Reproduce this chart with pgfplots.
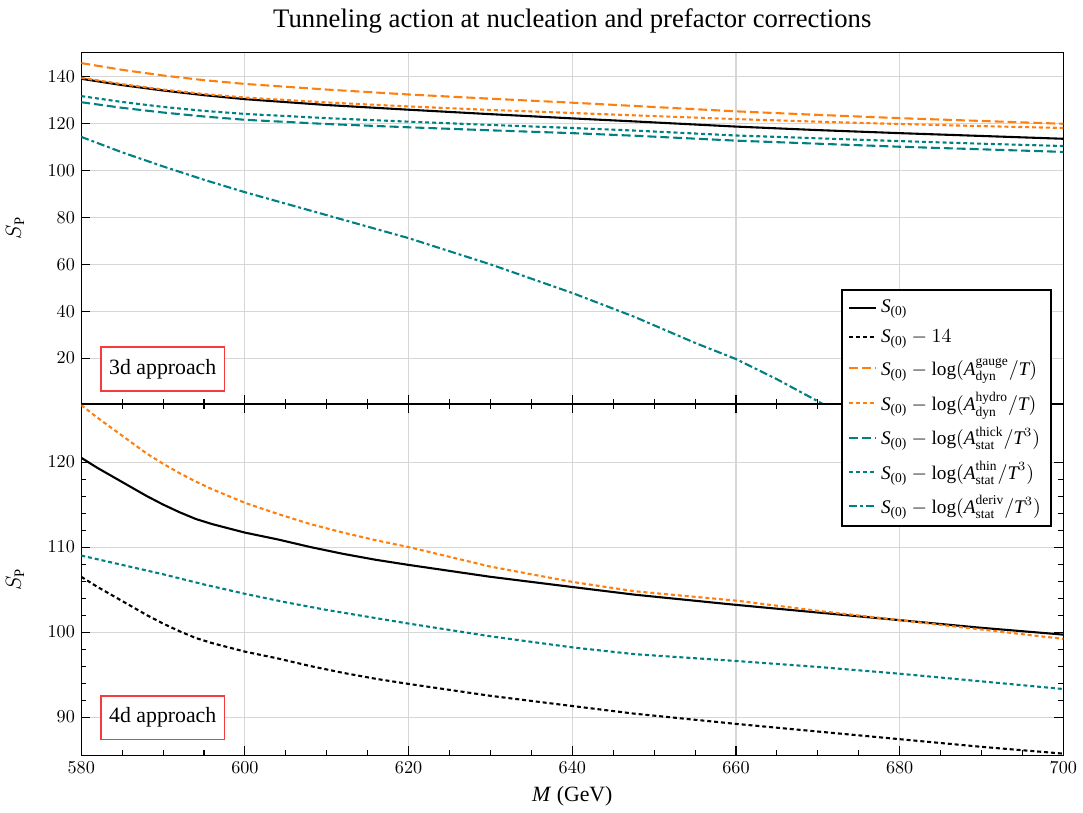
\documentclass[border=0pt]{standalone}
\usepackage{amsmath}
\usepackage{fontspec}
\setmainfont{Liberation Serif}
\usepackage{pgfplots}
\pgfplotsset{compat=1.18}

\definecolor{myorange}{RGB}{255,127,14}
\definecolor{myteal}{RGB}{0,128,128}
\definecolor{boxred}{RGB}{245,60,60}

\pgfplotsset{
  panel/.style={
    scale only axis, width=540.6pt, height=193.5pt,
    xmin=580, xmax=700, xtick={580,600,...,700}, minor x tick num=3,
    grid=major, grid style={solid, black!16, line width=0.6pt},
    major grid style={solid, black!16, line width=0.6pt},
    axis line style={line width=0.8pt},
    tick style={solid, black, line width=0.6pt},
    major tick length=5pt, minor tick length=2.8pt,
    ticklabel style={font=\fontsize{10.4}{12}\selectfont},
    ylabel={$S_{\mathrm{P}}$}, ylabel shift=6pt,
    ylabel style={font=\fontsize{12}{14}\selectfont},
    every axis plot/.append style={line width=1.15pt},
    legend image code/.code={\draw[##1] (0cm,0cm) -- (0.52cm,0cm);},
  },
  s0/.style={black, solid},
  s14/.style={black, dash pattern=on 2.2pt off 1.6pt},
  gauge/.style={myorange, dash pattern=on 4.9pt off 2.2pt},
  hydro/.style={myorange, dash pattern=on 2.2pt off 1.6pt},
  thick/.style={myteal, dash pattern=on 4.9pt off 2.2pt},
  thin/.style={myteal, dash pattern=on 2.2pt off 1.6pt},
  deriv/.style={myteal, dash pattern=on 4.4pt off 1.6pt on 1.6pt off 1.6pt},
}

\newcommand{\Sz}{\textit{S}_{\textrm{(0)}}}

\begin{document}
\begin{tikzpicture}
\begin{axis}[panel, name=top,
    ymin=0.5, ymax=150.5, ytick={20,40,...,140},
    xticklabels={}, ytick pos=left, xtick pos=bottom,
    title={Tunneling action at nucleation and prefactor corrections},
    title style={font=\fontsize{14.7}{17}\selectfont, yshift=1pt},
]
\addplot[s0] coordinates {(580,139.2)(585,136.5)(590,134.2)(595,132.2)(600,130.5)(610,128.0)(620,126.0)(630,124.1)(640,122.3)(647.6,121.0)(660,118.8)(670,117.3)(680,116.0)(690,114.8)(700,113.6)};
\addplot[gauge] coordinates {(580,145.9)(585,143.0)(590,140.6)(595,138.6)(600,137.0)(610,134.6)(620,132.5)(630,130.7)(640,129.0)(647.6,127.6)(660,125.3)(670,123.8)(680,122.4)(690,121.2)(700,120.0)};
\addplot[hydro] coordinates {(580,139.6)(585,136.9)(590,134.6)(595,132.7)(600,131.2)(610,129.1)(620,127.4)(630,125.9)(640,124.6)(647.6,123.6)(660,122.0)(670,120.9)(680,119.9)(690,119.0)(700,118.2)};
\addplot[thick] coordinates {(580,129.2)(585,126.8)(590,124.8)(595,123.1)(600,121.7)(610,119.9)(620,118.5)(630,117.2)(640,116.0)(647.6,114.9)(660,112.8)(670,111.5)(680,110.2)(690,109.1)(700,108.0)};
\addplot[thin] coordinates {(580,131.8)(585,129.3)(590,127.2)(595,125.5)(600,124.2)(610,122.4)(620,120.9)(630,119.5)(640,118.2)(647.6,117.1)(660,115.0)(670,113.8)(680,112.6)(690,111.5)(700,110.5)};
\addplot[deriv] coordinates {(580,114.4)(585,107.8)(590,101.8)(595,96.1)(600,90.8)(610,81.0)(620,71.2)(630,60.0)(640,47.8)(647.6,37.6)(655,26.5)(660,19.6)(665,11.0)(670,1.6)(671,-0.3)};
\node[draw=boxred, fill=white, line width=0.8pt, minimum width=68pt, minimum height=24pt, inner sep=0pt, font=\fontsize{12}{14}\selectfont]
  at (rel axis cs:0.083,0.099) {3d approach};
\end{axis}

\begin{axis}[panel, name=bot, at={(top.south west)}, anchor=north west,
    ymin=85.5, ymax=126.85, ytick={90,100,110,120}, minor y tick num=4,
    xlabel={\textit{M} (GeV)},
    xlabel style={font=\fontsize{12}{14}\selectfont},
    legend cell align=left,
    legend style={at={(0.988,1.326)}, anchor=north east, draw=black, line width=0.8pt,
      fill=white, font=\fontsize{10.6}{12.5}\selectfont, row sep=3.6pt, inner sep=3.5pt},
]
\addlegendimage{s0}\addlegendentry{$\Sz$}
\addlegendimage{s14}\addlegendentry{$\Sz - 14$}
\addlegendimage{gauge}\addlegendentry{$\Sz - \textrm{log}(\textit{A}^{\textrm{gauge}}_{\textrm{dyn}}/\textit{T})$}
\addlegendimage{hydro}\addlegendentry{$\Sz - \textrm{log}(\textit{A}^{\textrm{hydro}}_{\textrm{dyn}}/\textit{T})$}
\addlegendimage{thick}\addlegendentry{$\Sz - \textrm{log}(\textit{A}^{\textrm{thick}}_{\textrm{stat}}/\textit{T}^{3})$}
\addlegendimage{thin}\addlegendentry{$\Sz - \textrm{log}(\textit{A}^{\textrm{thin}}_{\textrm{stat}}/\textit{T}^{3})$}
\addlegendimage{deriv}\addlegendentry{$\Sz - \textrm{log}(\textit{A}^{\textrm{deriv}}_{\textrm{stat}}/\textit{T}^{3})$}
\addplot[s0, forget plot] coordinates {(580,120.5)(582,119.3)(584,118.2)(586,117.1)(588,116.0)(590,115.0)(592,114.1)(594,113.3)(596,112.7)(598,112.2)(600,111.7)(604,110.9)(608,110.0)(612,109.2)(616,108.5)(620,107.9)(630,106.5)(640,105.3)(647.6,104.4)(660,103.2)(670,102.3)(680,101.4)(690,100.5)(700,99.7)};
\addplot[s14, forget plot] coordinates {(580,106.5)(582,105.3)(584,104.2)(586,103.1)(588,102.0)(590,101.0)(592,100.1)(594,99.3)(596,98.7)(598,98.2)(600,97.7)(604,96.9)(608,96.0)(612,95.2)(616,94.5)(620,93.9)(630,92.5)(640,91.3)(647.6,90.4)(660,89.2)(670,88.3)(680,87.4)(690,86.5)(700,85.7)};
\addplot[hydro, forget plot] coordinates {(580,126.7)(582,125.2)(584,123.8)(586,122.4)(588,121.0)(590,119.8)(592,118.7)(594,117.7)(596,116.8)(598,116.0)(600,115.2)(604,113.9)(608,112.7)(612,111.7)(616,110.8)(620,110.0)(630,107.7)(640,105.9)(647.6,104.8)(660,103.7)(670,102.5)(680,101.4)(690,100.3)(700,99.2)};
\addplot[thin, forget plot] coordinates {(580,109.0)(585,107.9)(590,106.8)(595,105.6)(600,104.5)(605,103.5)(610,102.6)(615,101.8)(620,101.0)(630,99.5)(640,98.2)(647.6,97.4)(660,96.6)(670,95.9)(680,95.1)(690,94.2)(700,93.3)};
\node[draw=boxred, fill=white, line width=0.8pt, minimum width=68pt, minimum height=24pt, inner sep=0pt, font=\fontsize{12}{14}\selectfont]
  at (rel axis cs:0.083,0.107) {4d approach};
\end{axis}
\path (bot.south west) ++(-41.97pt,-31.61pt) rectangle ++(590.2pt,447.4pt);
\end{tikzpicture}
\end{document}
